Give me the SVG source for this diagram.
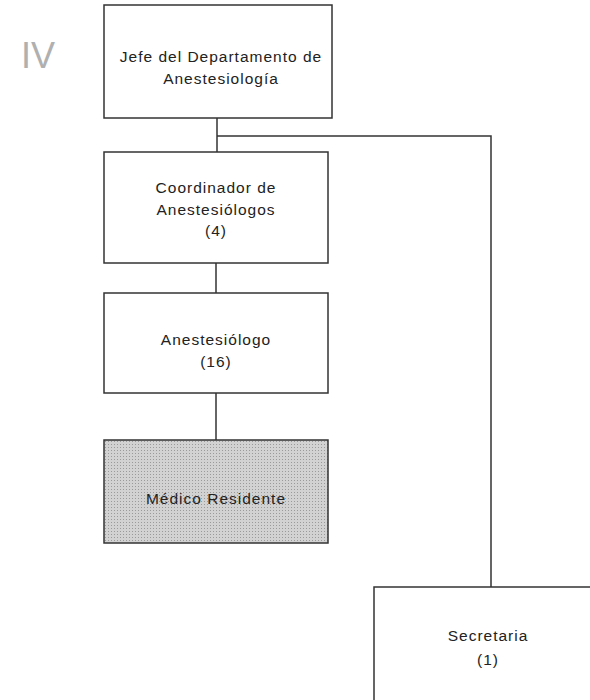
<svg xmlns="http://www.w3.org/2000/svg" width="590" height="700" viewBox="0 0 590 700">
<style>
.box{fill:#fff;stroke:#333;stroke-width:1.5}
.shade{stroke:#333;stroke-width:1.5}
.t{font-family:"Liberation Sans",Arial,sans-serif;font-size:15.5px;fill:#222;text-anchor:middle;letter-spacing:1px}
.conn{fill:none;stroke:#333;stroke-width:1.5}
</style>
<defs>
<pattern id="dots" width="3" height="3" patternUnits="userSpaceOnUse">
<rect width="3" height="3" fill="#d2d2d2"/>
<rect width="1" height="1" fill="#9a9a9a"/>
</pattern>
</defs>
<text x="38" y="68" font-family="Liberation Sans,Arial,sans-serif" font-size="36" fill="#b0b0b0" text-anchor="middle">IV</text>
<g id="connectors">
<path class="conn" d="M217 118 V152"/>
<path class="conn" d="M217 136 H491 V587"/>
<path class="conn" d="M216 263 V293"/>
<path class="conn" d="M216 393 V440"/>
</g>
<g id="jefe">
<rect class="box" x="104" y="5" width="228" height="113"/>
<text class="t" x="221" y="62">Jefe del Departamento de</text>
<text class="t" x="221" y="84">Anestesiología</text>
</g>
<g id="coordinador">
<rect class="box" x="104" y="152" width="224" height="111"/>
<text class="t" x="216" y="193">Coordinador de</text>
<text class="t" x="216" y="215">Anestesiólogos</text>
<text class="t" x="216" y="236">(4)</text>
</g>
<g id="anestesiologo">
<rect class="box" x="104" y="293" width="224" height="100"/>
<text class="t" x="216" y="345">Anestesiólogo</text>
<text class="t" x="216" y="367">(16)</text>
</g>
<g id="medico">
<rect class="shade" x="104" y="440" width="224" height="103" style="fill:url(#dots)"/>
<text class="t" x="216" y="504">Médico Residente</text>
</g>
<g id="secretaria">
<rect class="box" x="374" y="587" width="230" height="130"/>
<text class="t" x="488" y="641">Secretaria</text>
<text class="t" x="488" y="665">(1)</text>
</g>
</svg>
